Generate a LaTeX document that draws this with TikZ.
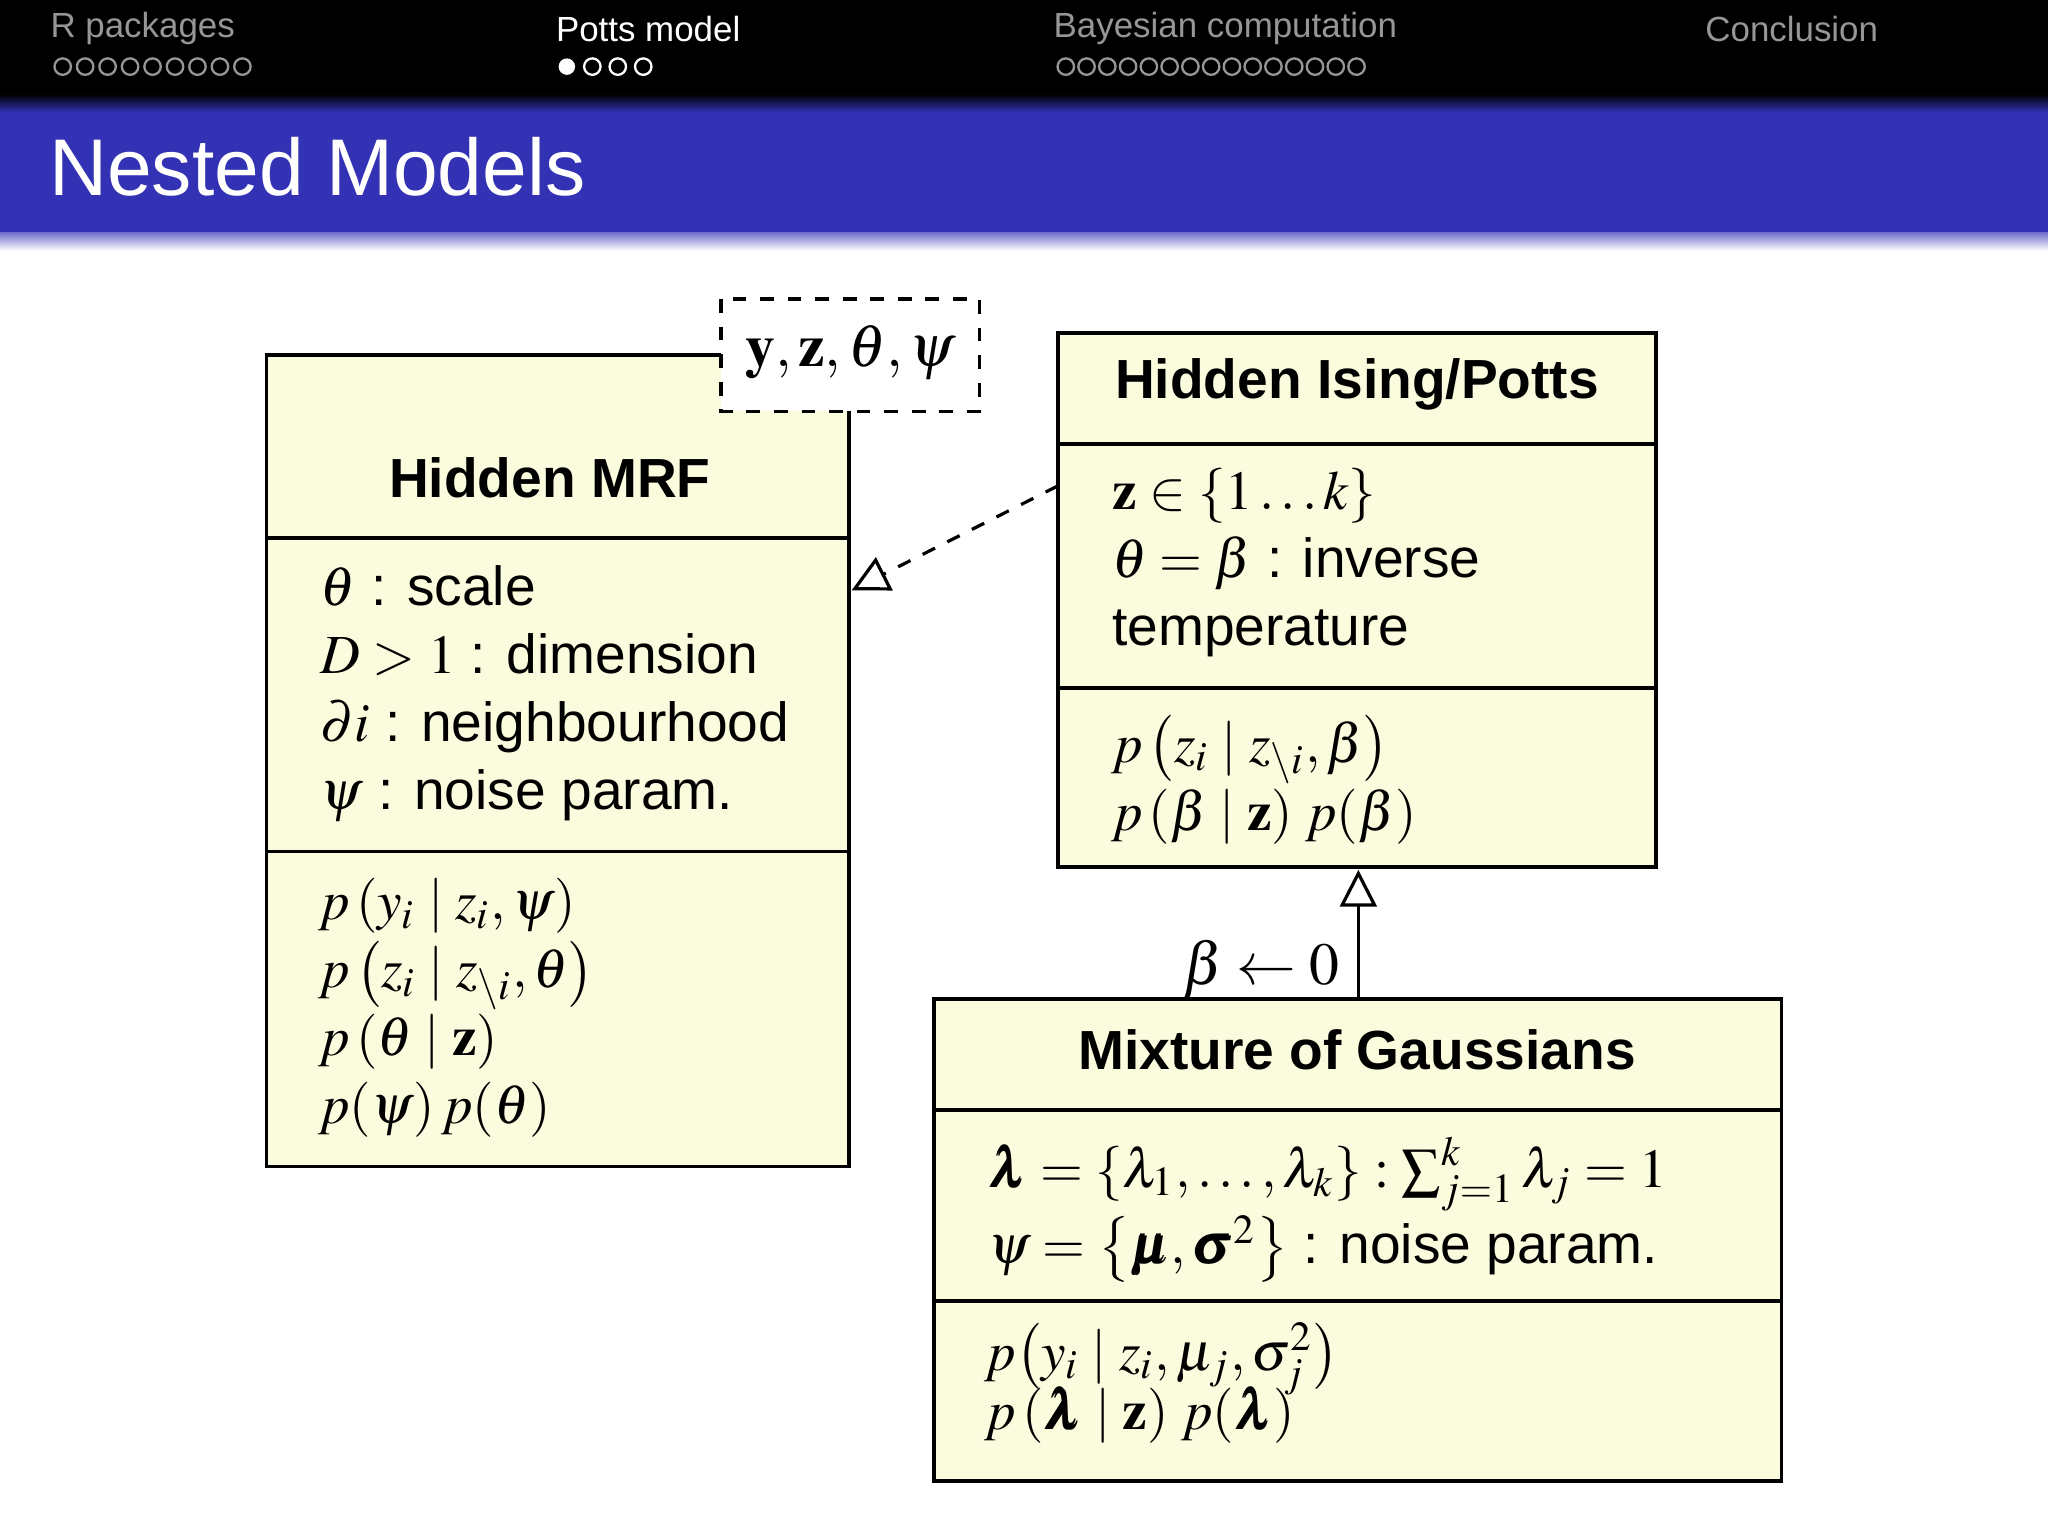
\documentclass[tikz,border=0pt]{standalone}
\usepackage{mathptmx}
\usepackage{bm}
\usepackage{fontspec}
\setmainfont{Liberation Sans}
\usetikzlibrary{arrows.meta}
\definecolor{boxfill}{RGB}{251,251,222}
\definecolor{band}{RGB}{52,50,180}
\definecolor{navgray}{RGB}{150,150,150}
\tikzset{
  umlbox/.style={draw=black, fill=boxfill, line width=0.8pt},
  rule/.style={line width=0.8pt},
  ttl/.style={font=\fontsize{12}{14}\selectfont\bfseries},
  body/.style={font=\fontsize{12}{14.8}\selectfont, align=left, anchor=north west, inner sep=0pt},
  nav/.style={font=\fontsize{7.6}{9}\selectfont, anchor=west, inner sep=0pt},
  navdot/.style={draw=navgray, line width=0.5pt},
  opentri/.style={-{Triangle[open,length=8pt,width=8pt]}, line width=0.7pt}
}
\begin{document}
\begin{tikzpicture}[x=0.01cm,y=-0.01cm]
\useasboundingbox (0,0) rectangle (1568,1176);
\fill[white] (0,0) rectangle (1568,1176);
% header
\fill[black] (0,0) rectangle (1568,80);
\shade[top color=black, bottom color=band] (0,72) rectangle (1568,86);
\fill[band] (0,86) rectangle (1568,178);
\shade[top color=band!70, bottom color=white] (0,178) rectangle (1568,192);
\node[nav, text=navgray] (n1) at (38,22) {R packages};
\node[nav, text=white] (n2) at (425,22) {Potts model};
\node[nav, text=navgray] (n3) at (806,22) {Bayesian computation};
\node[nav, text=navgray] (n4) at (1305,22) {Conclusion};
\foreach \i in {0,...,8} \draw[navdot] (48+\i*17.2,51) circle (6.3);
\fill[white] (434,51) circle (6.3);
\foreach \i in {1,...,3} \draw[white, line width=0.5pt] (434+\i*19.5,51) circle (6.3);
\foreach \i in {0,...,14} \draw[navdot] (816+\i*15.9,51) circle (6.3);
\node[anchor=west, inner sep=0pt, text=white, font=\fontsize{17.5}{21}\selectfont] (title) at (37,128) {Nested Models};
% Hidden MRF
\draw[umlbox] (204,272) rectangle (650,893);
\draw[rule] (204,412) -- (650,412);
\draw[rule] (204,652) -- (650,652);
\node[ttl] (mrf) at (421,366) {Hidden MRF};
\node[body] (mrfa) at (245,432) {$\theta$ : scale\\ $D>1$ : dimension\\ $\partial i$ : neighbourhood\\ $\psi$ : noise param.};
\node[body] (mrfb) at (243,672) {$p\left(y_i \mid z_i,\psi\right)$\\ $p\left(z_i \mid z_{\backslash i},\theta\right)$\\ $p\left(\theta \mid \mathbf{z}\right)$\\ $p(\psi)\,p(\theta)$};
% dashed params box
\draw[dashed, fill=white, line width=0.7pt] (552,229) rectangle (750,315);
\node[font=\fontsize{13}{16}\selectfont] (par) at (651,270) {$\mathbf{y},\mathbf{z},\theta,\psi$};
% Potts
\draw[umlbox] (810,255) rectangle (1268,664);
\draw[rule] (810,340) -- (1268,340);
\draw[rule] (810,527) -- (1268,527);
\node[ttl] (potts) at (1039,294) {Hidden Ising/Potts};
\node[body] (pa) at (851,358) {$\mathbf{z}\in\{1\ldots k\}$\\ $\theta=\beta$ : inverse\\ temperature};
\node[body] (pb) at (850,547) {$p\left(z_i \mid z_{\backslash i},\beta\right)$\\ $p\left(\beta \mid \mathbf{z}\right)\,p(\beta)$};
% Mixture
\draw[umlbox] (715,765) rectangle (1364,1134);
\draw[rule] (715,850) -- (1364,850);
\draw[rule] (715,996) -- (1364,996);
\node[ttl] (mix) at (1039,804) {Mixture of Gaussians};
\node[body] (ma) at (756,870) {$\bm{\lambda}=\{\lambda_1,\ldots,\lambda_k\}:\sum_{j=1}^{k}\lambda_j=1$\\ $\psi=\left\{\bm{\mu},\bm{\sigma}^2\right\}$ : noise param.};
\node[body] (mb) at (753,1012) {$p\bigl(y_i \mid z_i,\mu_j,\sigma_j^2\bigr)$\\[-2pt] $p\left(\bm{\lambda} \mid \mathbf{z}\right)\,p(\bm{\lambda})$};
% connectors
\coordinate (s1) at (810,372);
\coordinate (t1) at (652,452);
\draw[opentri, dashed] (s1) -- (t1);
\coordinate (s2) at (1040,765);
\coordinate (t2) at (1040,666);
\draw[opentri] (s2) -- (t2);
\node[font=\fontsize{13}{16}\selectfont] (lbl) at (966,742) {$\beta\leftarrow 0$};
\end{tikzpicture}
\end{document}
